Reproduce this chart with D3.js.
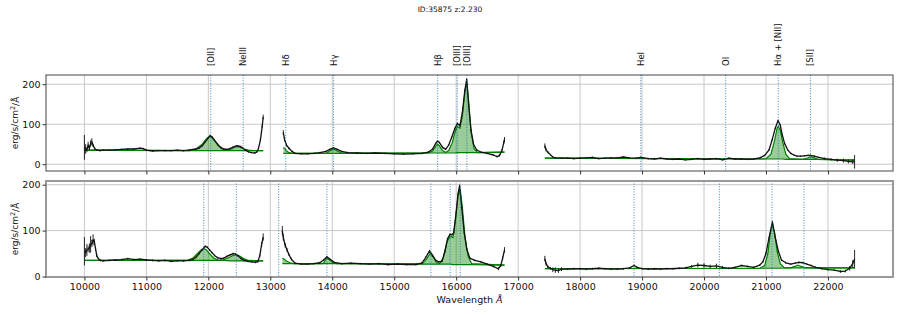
<!DOCTYPE html>
<html>
<head>
<meta charset="utf-8">
<script src="https://cdn.jsdelivr.net/npm/d3@7"></script>
<style>
    body { margin: 0; background: #fff; }
    svg { font-family: "DejaVu Sans", sans-serif; }
</style>
</head>
<body>
<div id="chart"></div>
<script>
// --- data ---
const chartTitle = "ID:35875 z:2.230";
const xTicks = [10000, 11000, 12000, 13000, 14000, 15000, 16000, 17000, 18000, 19000, 20000, 21000, 22000];
const yTicks = [0, 100, 200];

const lineNames = ["[OII]", "NeIII", "Hδ", "Hγ", "Hβ", "[OIII]", "[OIII]", "HeI", "OI", "Hα + [NII]", "[SII]"];
const topLineWave = [12038, 12562, 13249, 14021, 15701, 16018, 16173, 18979, 20349, 21198, 21718];
const botLineWave = [11926, 12452, 13135, 13914, 15592, 15903, 16065, 18871, 20248, 21097, 21613];

// top panel, segment 1
const top1Wave = [10000, 10020, 10040, 10060, 10080, 10100, 10120, 10140, 10170, 10200, 10250, 10300, 10400, 10500, 10600, 10700, 10800, 10900, 10950, 11000, 11100, 11200, 11300, 11400, 11500, 11600, 11700, 11800, 11850, 11900, 11950, 12000, 12030, 12060, 12100, 12150, 12200, 12250, 12300, 12350, 12400, 12450, 12480, 12520, 12560, 12600, 12650, 12700, 12750, 12780, 12810, 12840, 12870, 12885];
const top1Flux = [42, 38, 36, 48, 40, 52, 56, 47, 38, 36, 34, 35, 35, 36, 37, 38, 38, 40, 39, 35, 33, 34, 34, 34, 35, 34, 36, 38, 40, 46, 56, 66, 72, 68, 60, 50, 42, 38, 37, 39, 43, 46, 46, 44, 40, 35, 31, 29, 28, 30, 40, 60, 95, 118];
const top1Err = [31, 12, 6, 8, 5, 8, 9, 4, 3, 2,
    2, 2, 2, 2, 2, 2, 2, 2, 2, 2,
    2, 2, 2, 2, 2, 2, 2, 2, 2, 2,
    2, 2, 2, 2, 2, 2, 2, 2, 2, 2,
    2, 2, 2, 2, 2, 2, 2, 2, 2, 2,
    3, 3, 4, 6];
const top1ModelWave = [10000, 11700, 11800, 11900, 11960, 12000, 12030, 12060, 12100, 12160, 12220, 12300, 12380, 12440, 12480, 12520, 12580, 12650, 12720, 12885];
const top1Model = [35, 34, 38, 50, 62, 68, 69, 66, 58, 46, 38, 35, 39, 43, 44, 42, 38, 35, 34, 34];
const top1Cont = [35, 34, 34, 34, 34, 34, 34, 34, 34, 34, 34, 34, 34, 34, 34, 34, 34, 34, 34, 34];

// top panel, segment 2
const top2Wave = [13210, 13230, 13260, 13300, 13350, 13400, 13500, 13600, 13700, 13800, 13900, 13960, 14020, 14080, 14150, 14250, 14400, 14550, 14700, 14850, 15000, 15150, 15300, 15450, 15550, 15620, 15670, 15700, 15730, 15780, 15830, 15880, 15930, 15980, 16020, 16060, 16100, 16140, 16170, 16200, 16240, 16280, 16330, 16400, 16500, 16600, 16660, 16700, 16740, 16770, 16780];
const top2Flux = [79, 62, 48, 40, 32, 27, 26, 26, 27, 29, 32, 37, 41, 37, 32, 29, 28, 27, 28, 27, 26, 25, 26, 27, 30, 38, 52, 58, 54, 42, 37, 48, 68, 90, 102, 96, 130, 185, 212, 150, 85, 50, 36, 30, 27, 23, 19, 22, 35, 55, 62];
const top2Err = [6, 5, 4, 3, 2, 2, 2, 2, 2, 2,
    2, 2, 2, 2, 2, 2, 2, 2, 2, 2,
    2, 2, 2, 2, 2, 2, 2, 2, 2, 2,
    2, 2, 2, 2, 2, 2, 2, 2, 2, 2,
    2, 2, 2, 2, 2, 2, 2, 3, 3, 4,
    6];
const top2ModelWave = [13210, 13230, 13260, 13300, 13350, 13900, 13960, 14020, 14080, 14150, 15550, 15620, 15670, 15700, 15730, 15780, 15830, 15880, 15940, 15980, 16018, 16060, 16100, 16140, 16173, 16200, 16240, 16290, 16350, 16780];
const top2Model = [42, 40, 34, 29, 27, 27, 33, 38, 33, 28, 28, 33, 45, 50, 46, 34, 29, 34, 55, 80, 95, 90, 120, 180, 205, 160, 80, 38, 29, 30];
const top2Cont = [27, 27, 27, 27, 27, 27, 27, 27, 27, 27, 28, 28, 28, 28, 28, 28, 28, 28, 28, 28, 29, 29, 29, 29, 29, 29, 29, 29, 29, 30];

// top panel, segment 3
const top3Wave = [17431, 17450, 17480, 17520, 17560, 17600, 17700, 17800, 17900, 18000, 18100, 18200, 18300, 18400, 18500, 18600, 18700, 18800, 18900, 18980, 19100, 19200, 19300, 19400, 19500, 19600, 19700, 19800, 19900, 20000, 20100, 20200, 20300, 20400, 20500, 20600, 20700, 20800, 20900, 20980, 21050, 21100, 21150, 21194, 21230, 21260, 21300, 21350, 21400, 21450, 21500, 21560, 21620, 21680, 21720, 21780, 21850, 21950, 22050, 22150, 22250, 22330, 22400, 22430];
const top3Flux = [46, 36, 30, 24, 18, 16, 15, 15, 14, 15, 16, 17, 14, 15, 16, 16, 18, 16, 15, 17, 14, 13, 15, 13, 12, 13, 11, 12, 14, 12, 13, 14, 11, 15, 13, 13, 12, 13, 16, 22, 36, 61, 90, 109, 98, 75, 52, 36, 27, 23, 20, 20, 21, 22, 22, 20, 17, 14, 12, 10, 9, 7, 6, 6];
const top3Err = [6, 4, 3, 2, 2, 2, 2, 2, 2, 2,
    2, 2, 2, 2, 2, 2, 2, 2, 2, 2,
    2, 2, 2, 2, 2, 2, 2, 2, 2, 2,
    2, 2, 2, 2, 2, 2, 2, 2, 2, 2,
    2, 2, 2, 2, 2, 2, 2, 2, 2, 2,
    2, 2, 2, 2, 2, 2, 2, 3, 3, 4,
    5, 5, 6, 17];
const top3ModelWave = [17431, 20900, 21000, 21080, 21140, 21180, 21198, 21230, 21270, 21320, 21380, 21600, 21680, 21718, 21760, 21840, 22430];
const top3Model = [15, 13, 14, 25, 60, 90, 95, 85, 55, 25, 14, 12, 16, 19, 17, 12, 10];
const top3Cont = [15, 13, 13, 13, 13, 13, 13, 13, 13, 12, 12, 12, 12, 12, 12, 12, 10];

// bottom panel, segment 1
const bot1Wave = [10000, 10020, 10040, 10060, 10080, 10100, 10120, 10140, 10160, 10180, 10200, 10230, 10260, 10300, 10400, 10500, 10600, 10700, 10800, 10900, 11000, 11100, 11200, 11300, 11400, 11500, 11600, 11700, 11750, 11800, 11850, 11900, 11950, 11980, 12020, 12060, 12100, 12150, 12200, 12250, 12300, 12350, 12400, 12440, 12480, 12530, 12580, 12640, 12700, 12760, 12800, 12830, 12860, 12885];
const bot1Flux = [55, 52, 58, 60, 62, 70, 72, 80, 76, 60, 45, 38, 35, 34, 35, 36, 37, 39, 37, 38, 36, 35, 34, 35, 33, 34, 34, 35, 37, 42, 50, 58, 66, 64, 58, 52, 46, 41, 39, 40, 44, 47, 50, 49, 45, 39, 35, 33, 32, 31, 33, 45, 70, 86];
const bot1Err = [31, 10, 13, 6, 10, 18, 8, 12, 6, 4,
    3, 2, 2, 2, 2, 2, 2, 2, 2, 2,
    2, 2, 2, 2, 2, 2, 2, 2, 2, 2,
    2, 2, 2, 2, 2, 2, 2, 2, 2, 2,
    2, 2, 2, 2, 2, 2, 2, 2, 2, 2,
    3, 3, 5, 8];
const bot1ModelWave = [10000, 11650, 11750, 11820, 11880, 11926, 11970, 12030, 12100, 12180, 12260, 12340, 12400, 12452, 12500, 12570, 12650, 12885];
const bot1Model = [35, 35, 40, 50, 58, 61, 58, 48, 39, 35, 37, 42, 46, 47, 45, 39, 35, 34];
const bot1Cont = [35, 35, 35, 35, 35, 35, 35, 35, 35, 35, 35, 34, 34, 34, 34, 34, 34, 34];

// bottom panel, segment 2
const bot2Wave = [13194, 13210, 13240, 13270, 13300, 13340, 13400, 13500, 13600, 13700, 13800, 13860, 13914, 13960, 14030, 14150, 14300, 14450, 14600, 14750, 14900, 15050, 15200, 15350, 15450, 15510, 15570, 15620, 15670, 15720, 15770, 15820, 15860, 15900, 15930, 15960, 16000, 16030, 16055, 16090, 16130, 16170, 16220, 16300, 16400, 16500, 16600, 16680, 16720, 16750, 16780];
const bot2Flux = [100, 85, 68, 58, 48, 38, 29, 27, 27, 28, 30, 36, 43, 38, 31, 28, 29, 28, 27, 28, 26, 27, 26, 26, 30, 42, 56, 46, 35, 32, 33, 55, 82, 92, 91, 95, 140, 180, 198, 150, 95, 60, 40, 35, 32, 27, 22, 17, 24, 40, 58];
const bot2Err = [10, 7, 5, 4, 3, 3, 2, 2, 2, 2,
    2, 2, 2, 2, 2, 2, 2, 2, 2, 2,
    2, 2, 2, 2, 2, 2, 2, 2, 2, 2,
    2, 2, 2, 2, 2, 2, 2, 2, 2, 2,
    2, 2, 2, 2, 2, 2, 2, 3, 3, 4,
    6];
const bot2ModelWave = [13194, 13220, 13260, 13320, 13380, 13850, 13914, 13960, 14000, 14060, 15450, 15520, 15580, 15630, 15680, 15730, 15790, 15850, 15903, 15950, 15990, 16030, 16065, 16100, 16140, 16190, 16250, 16780];
const bot2Model = [40, 38, 34, 30, 28, 28, 40, 36, 31, 28, 28, 38, 50, 42, 31, 28, 40, 75, 88, 85, 125, 175, 190, 150, 90, 45, 28, 25];
const bot2Cont = [28, 28, 28, 28, 28, 28, 28, 28, 28, 28, 27, 27, 27, 27, 27, 27, 27, 27, 27, 26, 26, 26, 26, 26, 26, 26, 26, 25];

// bottom panel, segment 3
const bot3Wave = [17431, 17450, 17480, 17520, 17560, 17600, 17650, 17700, 17800, 17900, 18000, 18100, 18200, 18300, 18400, 18500, 18600, 18700, 18800, 18871, 18920, 19000, 19100, 19200, 19300, 19400, 19500, 19600, 19700, 19800, 19900, 20000, 20100, 20200, 20300, 20400, 20500, 20600, 20700, 20800, 20900, 20950, 21000, 21050, 21104, 21150, 21200, 21250, 21320, 21400, 21470, 21530, 21600, 21660, 21730, 21800, 21900, 22000, 22100, 22200, 22280, 22350, 22400, 22430];
const bot3Flux = [39, 28, 21, 18, 15, 14, 13, 16, 16, 17, 17, 16, 17, 18, 17, 16, 16, 17, 19, 24, 20, 17, 16, 17, 16, 17, 17, 18, 19, 22, 25, 24, 22, 23, 20, 18, 20, 24, 22, 20, 25, 32, 50, 85, 119, 85, 55, 36, 30, 27, 29, 31, 30, 27, 24, 20, 17, 15, 14, 11, 12, 18, 28, 38];
const bot3Err = [6, 4, 3, 3, 5, 6, 5, 4, 2, 2,
    2, 2, 2, 2, 2, 2, 2, 2, 2, 2,
    2, 2, 2, 2, 2, 2, 2, 2, 2, 3,
    5, 5, 4, 5, 3, 2, 2, 2, 2, 2,
    2, 2, 2, 2, 2, 2, 2, 2, 2, 2,
    2, 2, 2, 2, 2, 2, 2, 2, 2, 3,
    3, 5, 8, 20];
const bot3ModelWave = [17431, 20900, 20980, 21030, 21070, 21100, 21140, 21180, 21230, 21300, 21400, 21460, 21516, 21570, 21640, 22430];
const bot3Model = [17, 18, 24, 50, 95, 113, 95, 55, 28, 19, 19, 22, 25, 22, 19, 19];
const bot3Cont = [17, 18, 18, 18, 18, 18, 18, 18, 18, 19, 19, 19, 19, 19, 19, 19];

// --- layout ---
let width = 900, height = 315;
let plotLeft = 46, plotRight = 893;

let svg = d3.select("#chart").append("svg")
    .attr("width", width)
    .attr("height", height);

let xScale = d3.scaleLinear().domain([9380, 23050]).range([plotLeft, plotRight]);

function segment(wave, flux, err, modelWave, model, cont) {
    return {wave, flux, err, modelWave, model, cont};
}

let panels = [
    {
        id: "top", top: 75, bottom: 171, yDomain: [-17, 223], showXLabels: false,
        frameColor: "#444", frameWidth: 1, lines: topLineWave, labels: true,
        segments: [
            segment(top1Wave, top1Flux, top1Err, top1ModelWave, top1Model, top1Cont),
            segment(top2Wave, top2Flux, top2Err, top2ModelWave, top2Model, top2Cont),
            segment(top3Wave, top3Flux, top3Err, top3ModelWave, top3Model, top3Cont)
        ]
    },
    {
        id: "bot", top: 181, bottom: 277, yDomain: [-1, 208], showXLabels: true,
        frameColor: "#999", frameWidth: 2, lines: botLineWave, labels: false,
        segments: [
            segment(bot1Wave, bot1Flux, bot1Err, bot1ModelWave, bot1Model, bot1Cont),
            segment(bot2Wave, bot2Flux, bot2Err, bot2ModelWave, bot2Model, bot2Cont),
            segment(bot3Wave, bot3Flux, bot3Err, bot3ModelWave, bot3Model, bot3Cont)
        ]
    }
];

function drawPanel(p) {
    let yScale = d3.scaleLinear().domain(p.yDomain).range([p.bottom, p.top]);
    let g = svg.append("g").attr("id", "panel-" + p.id);

    g.append("clipPath").attr("id", "clip-" + p.id)
        .append("rect")
        .attr("x", plotLeft).attr("y", p.top)
        .attr("width", plotRight - plotLeft).attr("height", p.bottom - p.top);

    // grid
    g.append("g").selectAll("line.vgrid").data(xTicks).enter()
        .append("line")
        .attr("x1", d => xScale(d)).attr("x2", d => xScale(d))
        .attr("y1", p.top).attr("y2", p.bottom)
        .style("stroke", "#c8c8c8").style("stroke-width", 1);
    g.append("g").selectAll("line.hgrid").data(yTicks).enter()
        .append("line")
        .attr("x1", plotLeft).attr("x2", plotRight)
        .attr("y1", d => yScale(d)).attr("y2", d => yScale(d))
        .style("stroke", "#c8c8c8").style("stroke-width", 1);

    let body = g.append("g").attr("clip-path", "url(#clip-" + p.id + ")");

    let area = d3.area()
        .x(d => d.x)
        .y0(d => yScale(d.c))
        .y1(d => yScale(d.m));
    let line = d3.line().x(d => d.x).y(d => d.y);

    p.segments.forEach(s => {
        let mpts = s.modelWave.map((w, i) => ({x: xScale(w), m: s.model[i], c: s.cont[i]}));
        body.append("path")
            .attr("d", area(mpts))
            .style("fill", "green")
            .style("fill-opacity", 0.4)
            .style("stroke", "none");
        body.append("path")
            .attr("d", line(mpts.map(d => ({x: d.x, y: yScale(d.c)}))))
            .style("fill", "none").style("stroke", "green").style("stroke-width", 1.2);
        body.append("path")
            .attr("d", line(mpts.map(d => ({x: d.x, y: yScale(d.m)}))))
            .style("fill", "none").style("stroke", "green").style("stroke-width", 1.2);

        let pts = s.wave.map((w, i) => ({x: xScale(w), v: s.flux[i], e: s.err[i]}));
        body.append("g").selectAll("line").data(pts).enter()
            .append("line")
            .attr("x1", d => d.x).attr("x2", d => d.x)
            .attr("y1", d => yScale(d.v - d.e)).attr("y2", d => yScale(d.v + d.e))
            .style("stroke", "#111").style("stroke-width", 0.9);
        body.append("path")
            .attr("d", line(pts.map(d => ({x: d.x, y: yScale(d.v)}))))
            .style("fill", "none").style("stroke", "#111").style("stroke-width", 1.3)
            .style("stroke-linejoin", "round");
    });

    // emission line markers
    body.append("g").selectAll("line").data(p.lines).enter()
        .append("line")
        .attr("x1", d => xScale(d)).attr("x2", d => xScale(d))
        .attr("y1", p.top).attr("y2", p.bottom)
        .style("stroke", "#1f77b4")
        .style("stroke-width", 1)
        .style("stroke-dasharray", "1,1.6")
        .style("opacity", 0.85);

    if (p.labels) {
        svg.append("g").selectAll("text").data(p.lines).enter()
            .append("text")
            .attr("transform", d => "translate(" + xScale(d) + "," + (p.top - 9) + ") rotate(-90)")
            .attr("dy", "0.35em")
            .style("font-size", "8.5px")
            .style("fill", "#111")
            .text((d, i) => lineNames[i]);
    }

    // frame
    g.append("rect")
        .attr("x", plotLeft).attr("y", p.top)
        .attr("width", plotRight - plotLeft).attr("height", p.bottom - p.top)
        .style("fill", "none")
        .style("stroke", p.frameColor)
        .style("stroke-width", p.frameWidth);

    // axes
    let xAxis = d3.axisBottom(xScale).tickValues(xTicks).tickSize(3.5).tickPadding(3)
        .tickFormat(p.showXLabels ? d3.format("d") : "");
    let xg = g.append("g")
        .attr("transform", "translate(0," + p.bottom + ")")
        .call(xAxis);
    xg.select(".domain").remove();
    xg.selectAll("text").style("font-size", "9.5px").style("font-family", "DejaVu Sans").style("fill", "#111");
    xg.selectAll("line").style("stroke", "#333");

    let yAxis = d3.axisLeft(yScale).tickValues(yTicks).tickSize(3.5).tickPadding(2).tickFormat(d3.format("d"));
    let yg = g.append("g")
        .attr("transform", "translate(" + plotLeft + ",0)")
        .call(yAxis);
    yg.select(".domain").remove();
    yg.selectAll("text").style("font-size", "9.5px").style("font-family", "DejaVu Sans").style("fill", "#111");
    yg.selectAll("line").style("stroke", "#333");

    let yLabel = svg.append("text")
        .attr("transform", "translate(18," + ((p.top + p.bottom) / 2) + ") rotate(-90)")
        .attr("text-anchor", "middle")
        .style("font-size", "9px")
        .style("fill", "#111");
    yLabel.append("tspan").text("erg/s/cm");
    yLabel.append("tspan").attr("dy", "-0.4em").style("font-size", "6.5px").text("2");
    yLabel.append("tspan").attr("dy", "0.4em").text("/Å");
}

panels.forEach(p => drawPanel(p));

svg.append("text")
    .attr("x", width / 2)
    .attr("y", 12)
    .attr("text-anchor", "middle")
    .style("font-size", "7.5px")
    .style("fill", "#111")
    .text(chartTitle);

let xLabel = svg.append("text")
    .attr("x", (plotLeft + plotRight) / 2)
    .attr("y", 303)
    .attr("text-anchor", "middle")
    .style("font-size", "9.5px")
    .style("fill", "#111");
xLabel.append("tspan").text("Wavelength ");
xLabel.append("tspan").style("font-style", "italic").text("Å");
</script>
</body>
</html>
